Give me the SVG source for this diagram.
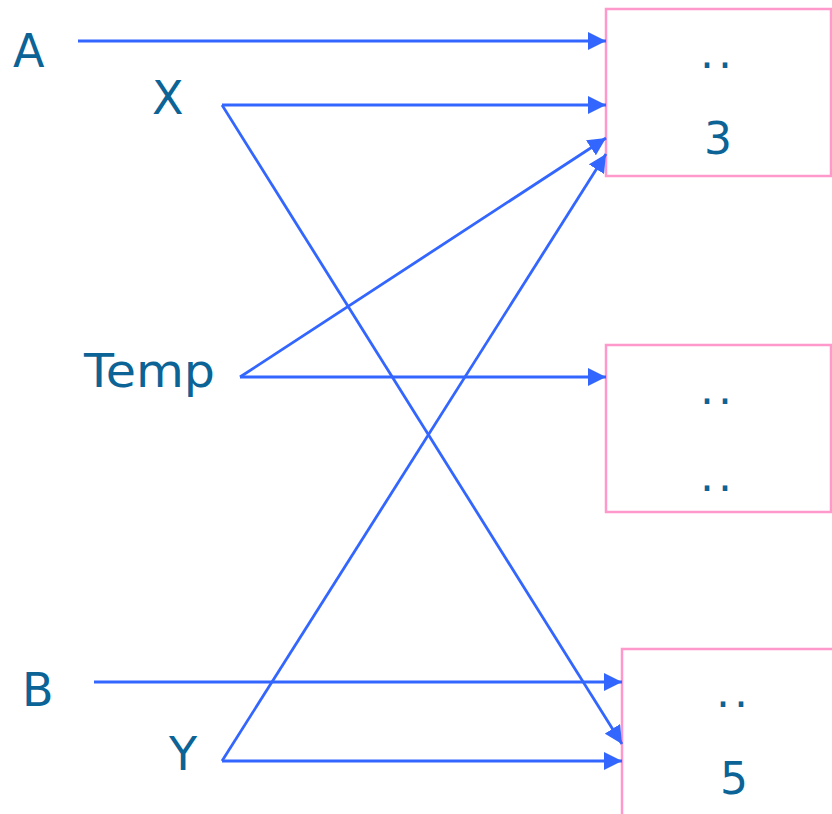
<svg xmlns="http://www.w3.org/2000/svg" width="832" height="814" viewBox="0 0 832 814">
<style>
.lbl{font-family:"DejaVu Sans",sans-serif;font-size:46px;fill:#0b6396}
.val{font-family:"DejaVu Sans",sans-serif;font-size:44px;fill:#0b6396;text-anchor:middle}
.box{fill:#fff;stroke:#ff99cc;stroke-width:2.5}
.c{stroke:#3366ff;stroke-width:2.8;fill:none;marker-end:url(#ah)}
</style>
<defs>
<marker id="ah" markerUnits="userSpaceOnUse" markerWidth="18" markerHeight="18" refX="16" refY="8" orient="auto" viewBox="0 0 16 16">
<path d="M0,0 L16,8 L0,16 Z" fill="#3366ff"/>
</marker>
</defs>
<g id="box1"><rect class="box" x="606" y="9" width="225" height="167"/><text class="val" x="718" y="68" letter-spacing="4">..</text><text class="val" x="718" y="154">3</text></g>
<g id="box2"><rect class="box" x="606" y="345" width="225" height="167"/><text class="val" x="718" y="404" letter-spacing="4">..</text><text class="val" x="718" y="491" letter-spacing="4">..</text></g>
<g id="box3"><rect class="box" x="622" y="649" width="225" height="180"/><text class="val" x="734" y="707" letter-spacing="4">..</text><text class="val" x="734" y="794">5</text></g>
<g id="A"><text class="lbl" x="13" y="67">A</text></g>
<g id="X"><text class="lbl" x="152" y="114">X</text></g>
<g id="Temp"><text class="lbl" x="84" y="387" font-size="48" textLength="131" lengthAdjust="spacingAndGlyphs">Temp</text></g>
<g id="B"><text class="lbl" x="22" y="706">B</text></g>
<g id="Y"><text class="lbl" x="169" y="770">Y</text></g>
<g id="connectors">
<line class="c" x1="78" y1="41" x2="606" y2="41"/>
<line class="c" x1="222" y1="105" x2="606" y2="105"/>
<line class="c" x1="222" y1="105" x2="622" y2="744"/>
<line class="c" x1="240" y1="377" x2="606" y2="377"/>
<line class="c" x1="240" y1="377" x2="606" y2="138"/>
<line class="c" x1="94" y1="682" x2="622" y2="682"/>
<line class="c" x1="222" y1="761" x2="622" y2="761"/>
<line class="c" x1="222" y1="761" x2="606" y2="154"/>
</g>
</svg>
